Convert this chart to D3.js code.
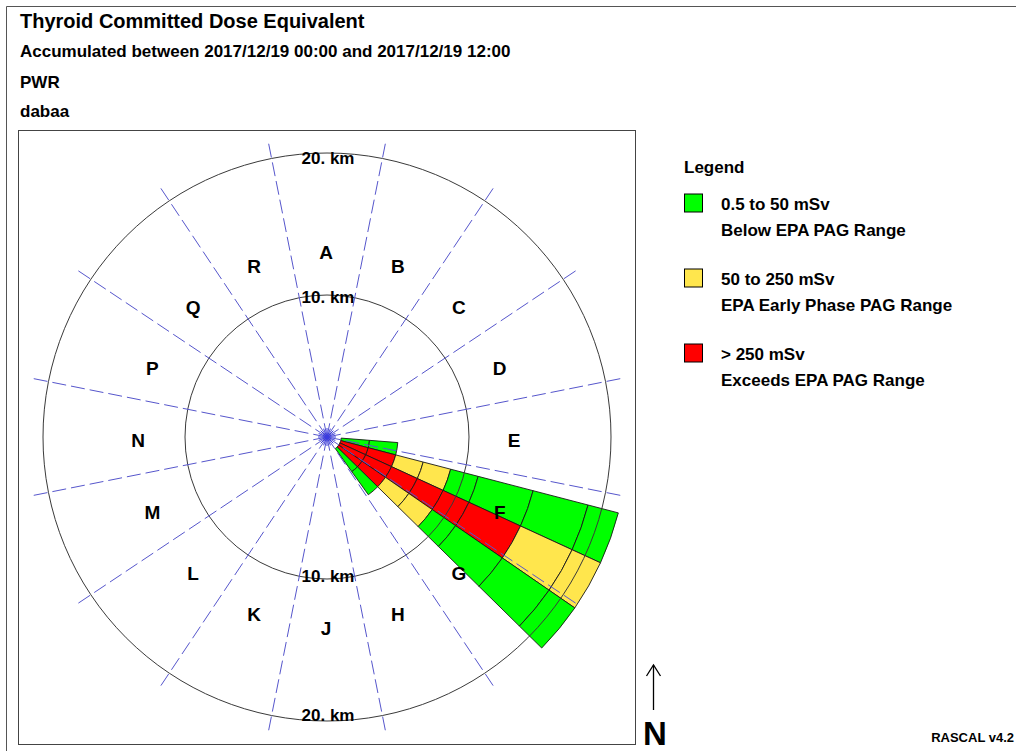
<!DOCTYPE html>
<html>
<head>
<meta charset="utf-8">
<script src="https://cdn.jsdelivr.net/npm/d3@7"></script>
<style>
  body { margin: 0; background: #fff; }
  svg text { font-family: "Liberation Sans", Arial, sans-serif; font-weight: bold; fill: #000; }
</style>
</head>
<body>
<svg id="chart" width="1016" height="751"></svg>
<script>
// ---- Header text ----
const headerLines = [
  "Thyroid Committed Dose Equivalent",
  "Accumulated between 2017/12/19 00:00 and 2017/12/19 12:00",
  "PWR",
  "dabaa"
];

// ---- Compass sectors (22.5 deg each, A due north, clockwise) ----
const sectorLetters = ["A", "B", "C", "D", "E", "F", "G", "H", "J", "K", "L", "M", "N", "P", "Q", "R"];

// ---- Range rings ----
const rangeRingsKm = [10, 20];
const rangeRingLabels = ["10. km", "20. km"];

// ---- Plume grid ----
// radial cell edges (km from release point)
const ringEdgesKm = [1, 3, 5, 7, 9, 11, 15, 19, 21.2];
// angular cell edges (bearing, degrees clockwise from north)
const bearingEdgesDeg = [94.5, 104.6, 114.7, 124.6, 134.5, 144.4];
// dose class of each radial cell, one array per angular cell
// 0 = 0.5-50 mSv, 1 = 50-250 mSv, 2 = > 250 mSv, null = below 0.5 mSv
const doseBin1 = [0, 0, null, null, null, null, null, null];
const doseBin2 = [2, 2, 1, 1, 0, 0, 0, 0];
const doseBin3 = [2, 2, 2, 2, 2, 2, 1, 1];
const doseBin4 = [2, 2, 1, 1, 0, 0, 0, 0];
const doseBin5 = [0, 0, null, null, null, null, null, null];

// ---- Legend ----
const doseClassRanges = ["0.5 to 50 mSv", "50 to 250 mSv", "> 250 mSv"];
const doseClassNotes = ["Below EPA PAG Range", "EPA Early Phase PAG Range", "Exceeds EPA PAG Range"];
const doseClassColors = ["#00ff00", "#ffe64d", "#ff0000"];

const versionText = "RASCAL v4.2";

// ------------------------------------------------------------------
const svg = d3.select("#chart");
svg.append("rect").attr("width", 1016).attr("height", 751).attr("fill", "#fff");

// window edge lines
svg.append("line").attr("x1", 6.5).attr("y1", 6.5).attr("x2", 6.5).attr("y2", 751)
  .attr("stroke", "#555").attr("stroke-width", 1);
svg.append("line").attr("x1", 6.5).attr("y1", 6.5).attr("x2", 1016).attr("y2", 6.5)
  .attr("stroke", "#555").attr("stroke-width", 1);

// header
const headerSizes = [20, 17, 17, 17];
const headerBaselines = [28, 57, 88, 117];
svg.selectAll("text.header").data(headerLines).join("text")
  .attr("class", "header")
  .attr("x", 20)
  .attr("y", (d, i) => headerBaselines[i])
  .attr("font-size", (d, i) => headerSizes[i])
  .text(d => d);

// plot frame
svg.append("rect")
  .attr("x", 18.5).attr("y", 130.5).attr("width", 617).attr("height", 614)
  .attr("fill", "#fff").attr("stroke", "#444").attr("stroke-width", 1);

const cx = 327, cy = 437;
const g = svg.append("g").attr("transform", `translate(${cx},${cy})`);

const r = d3.scaleLinear().domain([0, 20]).range([0, 284]);
const ang = d3.scaleLinear().domain([0, 360]).range([0, 2 * Math.PI]);

// plume cells
const doseBins = [doseBin1, doseBin2, doseBin3, doseBin4, doseBin5];
const cells = [];
doseBins.forEach((bin, i) => {
  bin.forEach((cls, j) => {
    if (cls === null) return;
    cells.push({
      innerRadius: r(ringEdgesKm[j]),
      outerRadius: r(ringEdgesKm[j + 1]),
      startAngle: ang(bearingEdgesDeg[i]),
      endAngle: ang(bearingEdgesDeg[i + 1]),
      cls
    });
  });
});
const arc = d3.arc();
g.selectAll("path.cell").data(cells).join("path")
  .attr("class", "cell")
  .attr("d", d => arc(d))
  .attr("fill", d => doseClassColors[d.cls])
  .attr("stroke", "#1a1a1a")
  .attr("stroke-width", 0.9)
  .attr("stroke-linejoin", "miter");

// range rings
g.selectAll("circle.ring").data(rangeRingsKm).join("circle")
  .attr("class", "ring")
  .attr("r", d => r(d))
  .attr("fill", "none")
  .attr("stroke", "#3a3a3a")
  .attr("stroke-width", 1);

// sector boundary spokes
const spokeKm = 21.15;
const boundaries = d3.range(16).map(k => 11.25 + 22.5 * k);
g.selectAll("line.spoke").data(boundaries).join("line")
  .attr("class", "spoke")
  .attr("x1", 0).attr("y1", 0)
  .attr("x2", d => d3.pointRadial(ang(d), r(spokeKm))[0])
  .attr("y2", d => d3.pointRadial(ang(d), r(spokeKm))[1])
  .attr("stroke", "#5656cc")
  .attr("stroke-width", 1)
  .attr("stroke-dasharray", "14 5");

// release point marker
const centres = d3.range(16).map(k => 22.5 * k);
g.selectAll("line.star").data(centres).join("line")
  .attr("class", "star")
  .attr("x1", 0).attr("y1", 0)
  .attr("x2", d => d3.pointRadial(ang(d), 9)[0])
  .attr("y2", d => d3.pointRadial(ang(d), 9)[1])
  .attr("stroke", "#3a3ae0")
  .attr("stroke-width", 1);

// sector letters
const letterRadius = 188;
g.selectAll("text.sector").data(sectorLetters).join("text")
  .attr("class", "sector")
  .attr("x", (d, i) => d3.pointRadial(ang(22.5 * i), letterRadius)[0] - 1)
  .attr("y", (d, i) => d3.pointRadial(ang(22.5 * i), letterRadius)[1] + 3.5)
  .attr("text-anchor", "middle")
  .attr("dominant-baseline", "central")
  .attr("font-size", 19)
  .text(d => d);

// range ring labels, above and below the release point
const ringLabelData = [];
rangeRingsKm.forEach((km, i) => {
  ringLabelData.push({ y: -0.98 * r(km), text: rangeRingLabels[i] });
  ringLabelData.push({ y: 0.98 * r(km), text: rangeRingLabels[i] });
});
g.selectAll("text.ringlabel").data(ringLabelData).join("text")
  .attr("class", "ringlabel")
  .attr("x", 1)
  .attr("y", d => d.y)
  .attr("text-anchor", "middle")
  .attr("dominant-baseline", "central")
  .attr("font-size", 17)
  .text(d => d.text);

// legend
const legend = svg.append("g").attr("transform", "translate(684,0)");
legend.append("text").attr("x", 0).attr("y", 173).attr("font-size", 17).text("Legend");
const item = legend.selectAll("g.item").data(doseClassRanges).join("g")
  .attr("class", "item")
  .attr("transform", (d, i) => `translate(0,${193.5 + 75 * i})`);
item.append("rect")
  .attr("x", 0.5).attr("y", 0.5).attr("width", 18).attr("height", 18)
  .attr("fill", (d, i) => doseClassColors[i])
  .attr("stroke", "#000").attr("stroke-width", 1);
item.append("text").attr("x", 37).attr("y", 16).attr("font-size", 17).text(d => d);
item.append("text").attr("x", 37).attr("y", 42).attr("font-size", 17).text((d, i) => doseClassNotes[i]);

// north arrow
svg.append("line").attr("x1", 653.5).attr("y1", 710).attr("x2", 653.5).attr("y2", 665)
  .attr("stroke", "#000").attr("stroke-width", 1.3);
svg.append("polyline").attr("points", "646.5,676 653.5,665 660.5,676")
  .attr("fill", "none").attr("stroke", "#000").attr("stroke-width", 1.3);
svg.append("text").attr("x", 655).attr("y", 745).attr("text-anchor", "middle")
  .attr("font-size", 33).text("N");

svg.append("text").attr("x", 1014).attr("y", 742).attr("text-anchor", "end")
  .attr("font-size", 13).text(versionText);
</script>
</body>
</html>
